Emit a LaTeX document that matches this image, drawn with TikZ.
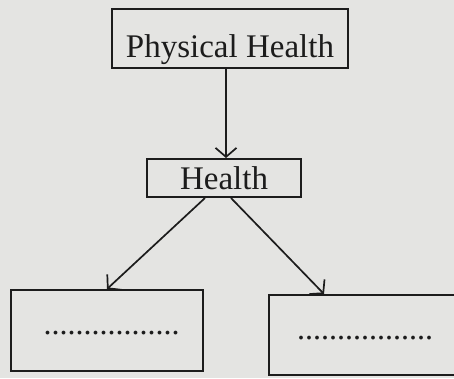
\documentclass[tikz,border=0pt]{standalone}
\usepackage{fontspec}
\setmainfont{Liberation Serif}
\usetikzlibrary{arrows.meta,calc}
\definecolor{paper}{RGB}{228,228,226}
\definecolor{ink}{RGB}{28,28,28}
\tikzset{
  box/.style={draw=ink, line width=2pt, inner sep=0pt, text=ink, font=\fontsize{33}{36}\selectfont},
  arr/.style={draw=ink, line width=1.7pt, -{Straight Barb[length=9pt,width=21pt,line width=1.7pt]}},
  dotsnode/.style={text=ink, inner sep=0pt, font=\fontsize{32}{32}\selectfont}
}
\begin{document}
\begin{tikzpicture}[x=1pt,y=-1pt]
  \useasboundingbox (0,0) rectangle (454,378);
  \clip (0,0) rectangle (454,378);
  \fill[paper] (0,0) rectangle (454,378);
  \node[box, minimum width=236pt, minimum height=59pt, text height=37pt, text depth=0pt] (phys) at (230,38.5) {Physical Health};
  \node[box, minimum width=154pt, minimum height=38pt] (health) at (224,178) {Health};
  \node[box, minimum width=192pt, minimum height=81pt] (left) at (107,330.5) {};
  \node[box, minimum width=194pt, minimum height=80pt] (right) at (366,335) {};
  \node[dotsnode] (ldots) at (111.5,333) {.................};
  \node[dotsnode] (rdots) at (365,338) {.................};
  \draw[arr] ($(phys.south)+(-4,0)$) -- ($(health.north)+(2,0)$);
  \draw[arr] ($(health.south)+(-19,0)$) -- (left.north);
  \draw[arr] ($(health.south)+(7,0)$) -- ($(right.north west)+(56,0)$);
\end{tikzpicture}
\end{document}
